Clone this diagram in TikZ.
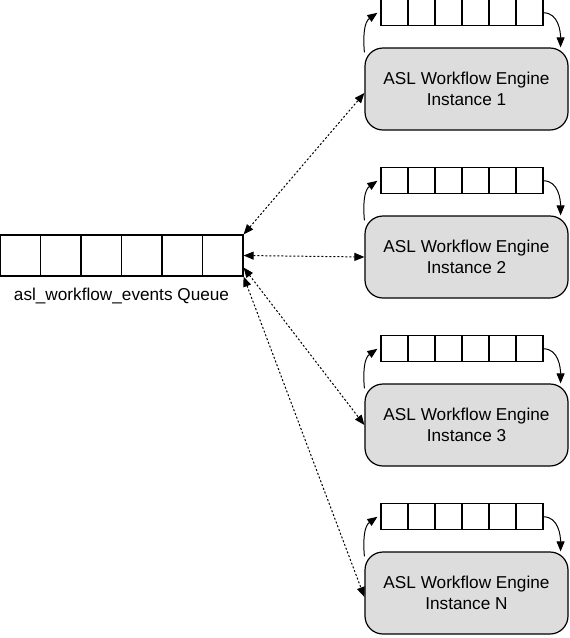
\documentclass[tikz,border=0pt]{standalone}
\usepackage{fontspec}
\setmainfont{Liberation Sans}
\usetikzlibrary{arrows.meta,matrix,positioning}
\definecolor{enginegray}{RGB}{221,221,221}

\begin{document}
\begin{tikzpicture}[%
    x = 1pt, y = 1pt,
    >={Triangle[length=10pt, width=8pt]},
    labelfont/.style={font=\fontsize{17.2}{20.5}\selectfont},
    cellnode/.style={
        draw,
        rectangle,
        inner sep = 0,
        anchor = center,
        },
    queuearray/.style={%
        matrix of nodes,
        ampersand replacement = \&,
        inner sep = 0,
        outer sep = 0,
        line width = 1.2pt,
        column sep = -\pgflinewidth,
        nodes in empty cells,
        },
    bigqueue/.style={%
        queuearray,
        nodes = {cellnode, minimum width = 40.5pt, minimum height = 41pt},
        },
    smallqueue/.style={%
        queuearray,
        nodes = {cellnode, minimum width = 27pt, minimum height = 26pt},
        },
    engine/.style={
        draw,
        rectangle,
        rounded corners = 18pt,
        fill = enginegray,
        line width = 1.2pt,
        minimum width = 203pt,
        minimum height = 82pt,
        align = center,
        labelfont,
        },
    loopline/.style={->, line width=1pt},
    link/.style={<->, line width=1pt, dash pattern=on 2pt off 2pt},
]

\useasboundingbox (0,0) rectangle (570,-638);

\matrix[bigqueue] (events) at (121.5,-255.5) {\&\&\&\&\&\\};
\node[labelfont, inner sep=0, below=11pt of events] (eventslabel) {asl\_workflow\_events Queue};

\foreach \lab [count=\i] in {1,2,3,N}{
    \node[engine] (inst\i) at (466.5,{-89-168*(\i-1)}) {ASL Workflow Engine\\Instance \lab};
    \matrix[smallqueue, above=21pt of inst\i, xshift=-4.5pt] (queue\i) {\&\&\&\&\&\\};

    % feedback loop of each instance
    \draw[loopline] (queue\i.east) to[out=0, in=90] ([xshift=-8pt]inst\i.north east);
    \draw[loopline] ([yshift=-5pt]inst\i.north west) to[out=95, in=215] ([xshift=-3pt]queue\i.west);
}

\draw[link] (events.north east) -- ([yshift=-4pt]inst1.west);
\draw[link] (events.east) -- (inst2.west);
\draw[link] ([yshift=-12pt]events.east) -- (inst3.west);
\draw[link] (events.south east) -- ([yshift=-4pt]inst4.west);

\end{tikzpicture}
\end{document}
